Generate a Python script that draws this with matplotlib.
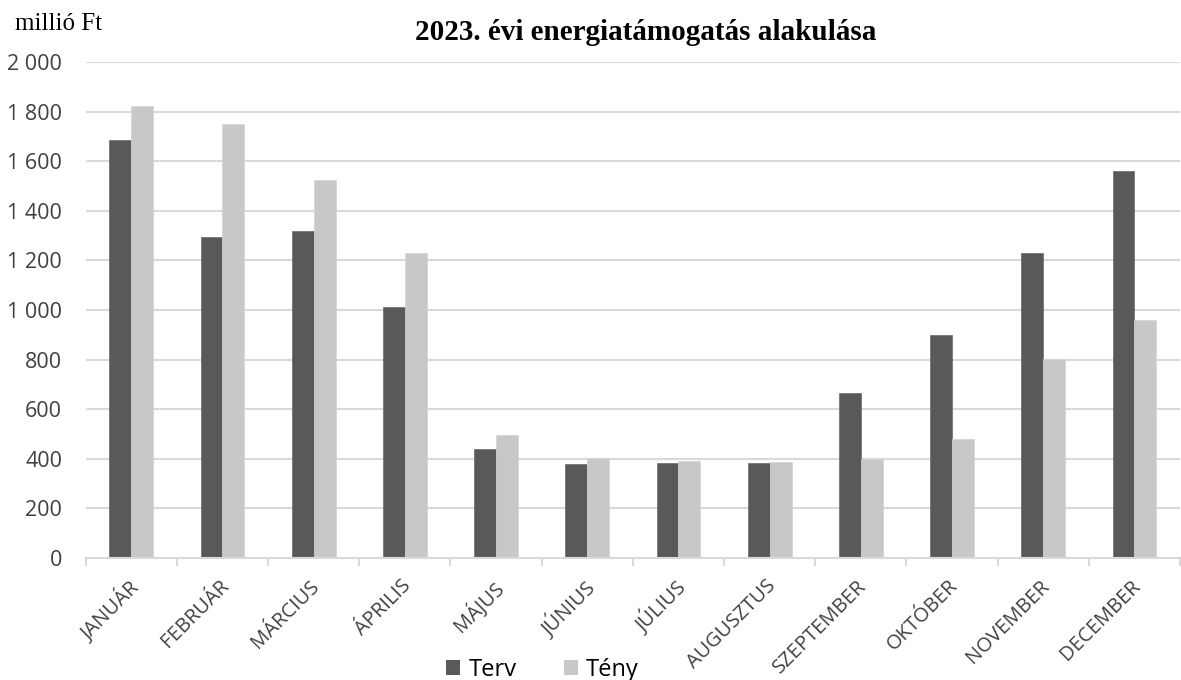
import matplotlib
matplotlib.use("Agg")
import matplotlib.pyplot as plt
import numpy as np
from matplotlib.ticker import FuncFormatter, MultipleLocator, FixedLocator
from matplotlib.patches import Patch
import matplotlib.transforms as mtransforms

months = ["JANUÁR", "FEBRUÁR", "MÁRCIUS", "ÁPRILIS", "MÁJUS", "JÚNIUS", "JÚLIUS",
          "AUGUSZTUS", "SZEPTEMBER", "OKTÓBER", "NOVEMBER", "DECEMBER"]
terv = [1684, 1294, 1318, 1013, 440, 379, 383, 382, 667, 899, 1231, 1559]
teny = [1823, 1749, 1523, 1230, 495, 404, 392, 388, 399, 481, 801, 960]

fig = plt.figure(figsize=(11.81, 6.8), dpi=100)
ax = fig.add_axes([85.7 / 1181, 1 - 558 / 680, (1180 - 85.7) / 1181, (558 - 62) / 680])

x = np.arange(len(months))
w = 0.24
ax.bar(x - w / 2, terv, w, color="#595959", edgecolor="#6a6a6a", linewidth=0.5, zorder=3)
ax.bar(x + w / 2, teny, w, color="#c8c8c8", edgecolor="#d4d4d4", linewidth=0.5, zorder=3)

ax.set_xlim(-0.5, len(months) - 0.5)
ax.set_ylim(0, 2000)
ax.yaxis.set_major_locator(MultipleLocator(200))
ax.yaxis.set_major_formatter(FuncFormatter(lambda v, p: f"{int(v):,}".replace(",", " ")))
ax.grid(axis="y", color="#d9d9d9", linewidth=1.5, zorder=0)
for s in ["top", "right", "left"]:
    ax.spines[s].set_visible(False)
ax.spines["bottom"].set_color("#d9d9d9")
ax.spines["bottom"].set_linewidth(1.5)
ax.spines["bottom"].set_zorder(4)

ax.tick_params(axis="y", length=0, pad=17, labelsize=15.5, labelcolor="#404040")
for t in ax.get_yticklabels():
    t.set_fontfamily("Open Sans")

ax.set_xticks(x)
ax.set_xticklabels(months, rotation=45, ha="right", rotation_mode="anchor",
                   fontsize=14.5, color="#404040", fontfamily="Open Sans")
ax.tick_params(axis="x", which="major", length=0, pad=13)
offset = mtransforms.ScaledTranslation(-4 / 100, 0, fig.dpi_scale_trans)
for t in ax.get_xticklabels():
    t.set_transform(t.get_transform() + offset)
ax.xaxis.set_minor_locator(FixedLocator(np.arange(-0.5, len(months) + 0.5, 1)))
ax.tick_params(axis="x", which="minor", length=6, width=1.5, color="#d9d9d9")

fig.text(645.5 / 1181, 1 - 33 / 680, "2023. évi energiatámogatás alakulása", ha="center", va="center",
         fontsize=21, fontweight="bold", fontfamily="Liberation Serif", color="black")
fig.text(15 / 1181, 1 - 24 / 680, "millió Ft", ha="left", va="center",
         fontsize=18, fontfamily="Liberation Serif", color="black")

handles = [Patch(facecolor="#595959", label="Terv"), Patch(facecolor="#c8c8c8", label="Tény")]
fig.legend(handles=handles, loc="center", bbox_to_anchor=(542.5 / 1181, 1 - 670 / 680), ncol=2,
           frameon=False, prop={"family": "Open Sans", "size": 17},
           handlelength=0.6, handleheight=0.6, handletextpad=0.35, columnspacing=2.0,
           borderpad=0, borderaxespad=0)

fig.savefig("out.png", dpi=100)
